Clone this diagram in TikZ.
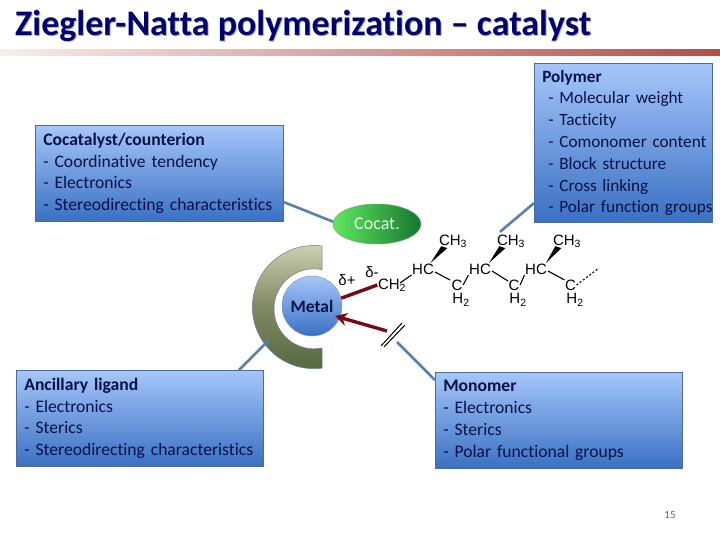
\documentclass[tikz,border=0pt]{standalone}
\usepackage{fontspec}
\setmainfont[Ligatures=NoCommon]{Carlito}
\newfontfamily\chemfont{Liberation Sans}
\usetikzlibrary{shapes.geometric,arrows.meta,calc}
\definecolor{navy}{RGB}{0,0,110}
\definecolor{ink}{RGB}{8,18,70}
\definecolor{steel}{RGB}{88,128,175}
\definecolor{bond}{RGB}{120,8,20}
\definecolor{boxtop}{RGB}{165,198,250}
\definecolor{boxbot}{RGB}{58,112,195}
\definecolor{barleft}{RGB}{248,238,234}
\definecolor{barright}{RGB}{178,78,72}
\definecolor{arctop}{RGB}{208,212,178}
\definecolor{arcmid}{RGB}{130,136,100}
\definecolor{arcbot}{RGB}{85,105,65}
\definecolor{cocatleft}{RGB}{95,232,95}
\definecolor{cocatright}{RGB}{22,118,48}
\tikzset{
  infobox/.style={draw=steel!85!black,line width=.7pt,top color=boxtop,bottom color=boxbot,
    anchor=north west,align=left,inner sep=0pt,text=ink,font=\fontsize{17.6}{21.8}\selectfont},
  link/.style={draw=steel,line width=2.6pt},
  redbond/.style={draw=bond,line width=3.4pt},
  chem/.style={inner sep=0.5pt,font=\chemfont\fontsize{15}{15}\selectfont},
  thin bond/.style={draw=black,line width=1.1pt},
  wedge/.style={fill=black,draw=none},
}
\begin{document}
\begin{tikzpicture}[x=1pt,y=-1pt]
\useasboundingbox (0,0) rectangle (720,540);
\fill[white] (0,0) rectangle (720,540);
% title
\node[anchor=base west,inner sep=0pt,text=black!30,font=\fontsize{36}{36}\selectfont\bfseries] (titleshadow) at (16,37) {Ziegler-Natta polymerization – catalyst};
\node[anchor=base west,inner sep=0pt,text=navy,font=\fontsize{36}{36}\selectfont\bfseries] (title) at (15,36) {Ziegler-Natta polymerization – catalyst};
\shade[left color=barleft,right color=barright] (0,49.5) rectangle (720,56);
% arc
\shade[top color=arctop,bottom color=arcbot,middle color=arcmid,draw=steel!70!gray,line width=.5pt]
  (322,246) arc[start angle=-82.5,end angle=-277.5,radius=61.6] -- (322,348)
  arc[start angle=-281.6,end angle=-78.4,radius=40] -- cycle;
% boxes
\node[infobox,minimum width=248pt,minimum height=96pt,text width=232pt] (cocatbox) at (35,125)
  {\textbf{Cocatalyst/counterion}\\- Coordinative tendency\\- Electronics\\- Stereodirecting characteristics};
\node[infobox,minimum width=178pt,minimum height=159pt,text width=178pt,font=\fontsize{17.2}{21.8}\selectfont] (polybox) at (534,63)
  {\hspace*{8pt}\textbf{Polymer}\\\hspace*{14pt}- Molecular weight\\\hspace*{14pt}- Tacticity\\\hspace*{14pt}- Comonomer content\\\hspace*{14pt}- Block structure\\\hspace*{14pt}- Cross linking\\\hspace*{14pt}\makebox[160pt][l]{- Polar function groups}};
\node[infobox,minimum width=247pt,minimum height=96pt,text width=231pt] (ligbox) at (16,370)
  {\textbf{Ancillary ligand}\\- Electronics\\- Sterics\\- Stereodirecting characteristics};
\node[infobox,minimum width=247pt,minimum height=96pt,text width=231pt] (monobox) at (435,372)
  {\textbf{Monomer}\\- Electronics\\- Sterics\\- Polar functional groups};
% metal and cocatalyst
\node[circle,minimum size=60pt,inner sep=0pt,draw=steel!80!white,line width=.5pt,top color=boxtop,bottom color=boxbot,text=ink,font=\fontsize{17.5}{17}\selectfont\bfseries] (metal) at (312,306) {Metal};
\node[ellipse,minimum width=88pt,minimum height=40pt,inner sep=0pt,draw=green!45!black!60!white,line width=.5pt,left color=cocatleft,right color=cocatright,text=white!92!green,font=\fontsize{18}{18}\selectfont] (cocat) at (377,224) {Cocat.};
% chemistry labels
\node[chem] (ch3a) at (453,241) {CH\textsubscript{3}};
\node[chem] (ch3b) at (511,241) {CH\textsubscript{3}};
\node[chem] (ch3c) at (567,241) {CH\textsubscript{3}};
\node[chem] (hca) at (423,269) {HC};
\node[chem] (hcb) at (480,269) {HC};
\node[chem] (hcc) at (536,269) {HC};
\node[chem] (ca) at (457,285) {C};
\node[chem] (cb) at (514,285) {C};
\node[chem] (cc) at (570.5,285) {C};
\node[chem] (ha) at (461,300) {H\textsubscript{2}};
\node[chem] (hb) at (518,300) {H\textsubscript{2}};
\node[chem] (hc) at (575,300) {H\textsubscript{2}};
\node[chem] (chtwo) at (392,285) {CH\textsubscript{2}};
\node[chem] (dplus) at (347,280) {δ+};
\node[chem] (dminus) at (372,272) {δ-};
\node[anchor=center,inner sep=0pt,text=black!60,font=\fontsize{11}{11}\selectfont] (pagenum) at (670,515) {15};
% chain bonds
\draw[thin bond] ($(chtwo.center)+(8,-2)$) -- (hca.south west);
\draw[thin bond] ($(hca.center)+(12,3)$) -- ($(ca.center)+(-7,-5)$);
\draw[thin bond] (ca.east) -- (hcb.south west);
\draw[thin bond] ($(hcb.center)+(12,2)$) -- ($(cb.center)+(-6,-4)$);
\draw[thin bond] (cb.east) -- (hcc.south west);
\draw[thin bond] ($(hcc.center)+(12,2)$) -- ($(cc.center)+(-6,-5)$);
\coordinate (chainend) at (599,268);
\draw[thin bond,dash pattern=on 2pt off 2pt] (cc.east) -- (chainend);
% wedges
\fill[wedge] (hca.north east) ++(-4,0) -- ($(ch3a.south west)+(9,0)$) -- ($(ch3a.south west)+(3,-2)$) -- cycle;
\fill[wedge] (hcb.north) ++(9,0) -- ($(ch3b.south west)+(9,0)$) -- ($(ch3b.south west)+(3,-2)$) -- cycle;
\fill[wedge] (hcc.north) ++(10,0) -- ($(ch3c.south west)+(9,0)$) -- ($(ch3c.south west)+(3,-2)$) -- cycle;
% red bonds
\draw[redbond] (metal.15) -- (chtwo.west);
\coordinate (breakmid) at (387,331);
\coordinate (metaltip) at ($(metal.center)+(23,10)$);
\draw[redbond,-{Stealth[length=12pt,width=13pt]}] (breakmid) -- (metaltip);
% break marks
\coordinate (hasha) at (381,346); \coordinate (hashb) at (402,323);
\coordinate (hashc) at (384,347); \coordinate (hashd) at (405,325);
\draw[black,line width=1pt] (hasha) -- (hashb);
\draw[black,line width=1pt] (hashc) -- (hashd);
% leader lines
\draw[link] (cocatbox.-13.6) -- (cocat.177);
\draw[link] (polybox.214.2) -- ($(ch3b.north)+(-11,-2)$);
\coordinate (arcpoint) at (269,340);
\draw[link] (ligbox.26.9) -- (arcpoint);
\coordinate (breakend) at (397,342);
\draw[link] (monobox.162) -- (breakend);
\end{tikzpicture}
\end{document}
